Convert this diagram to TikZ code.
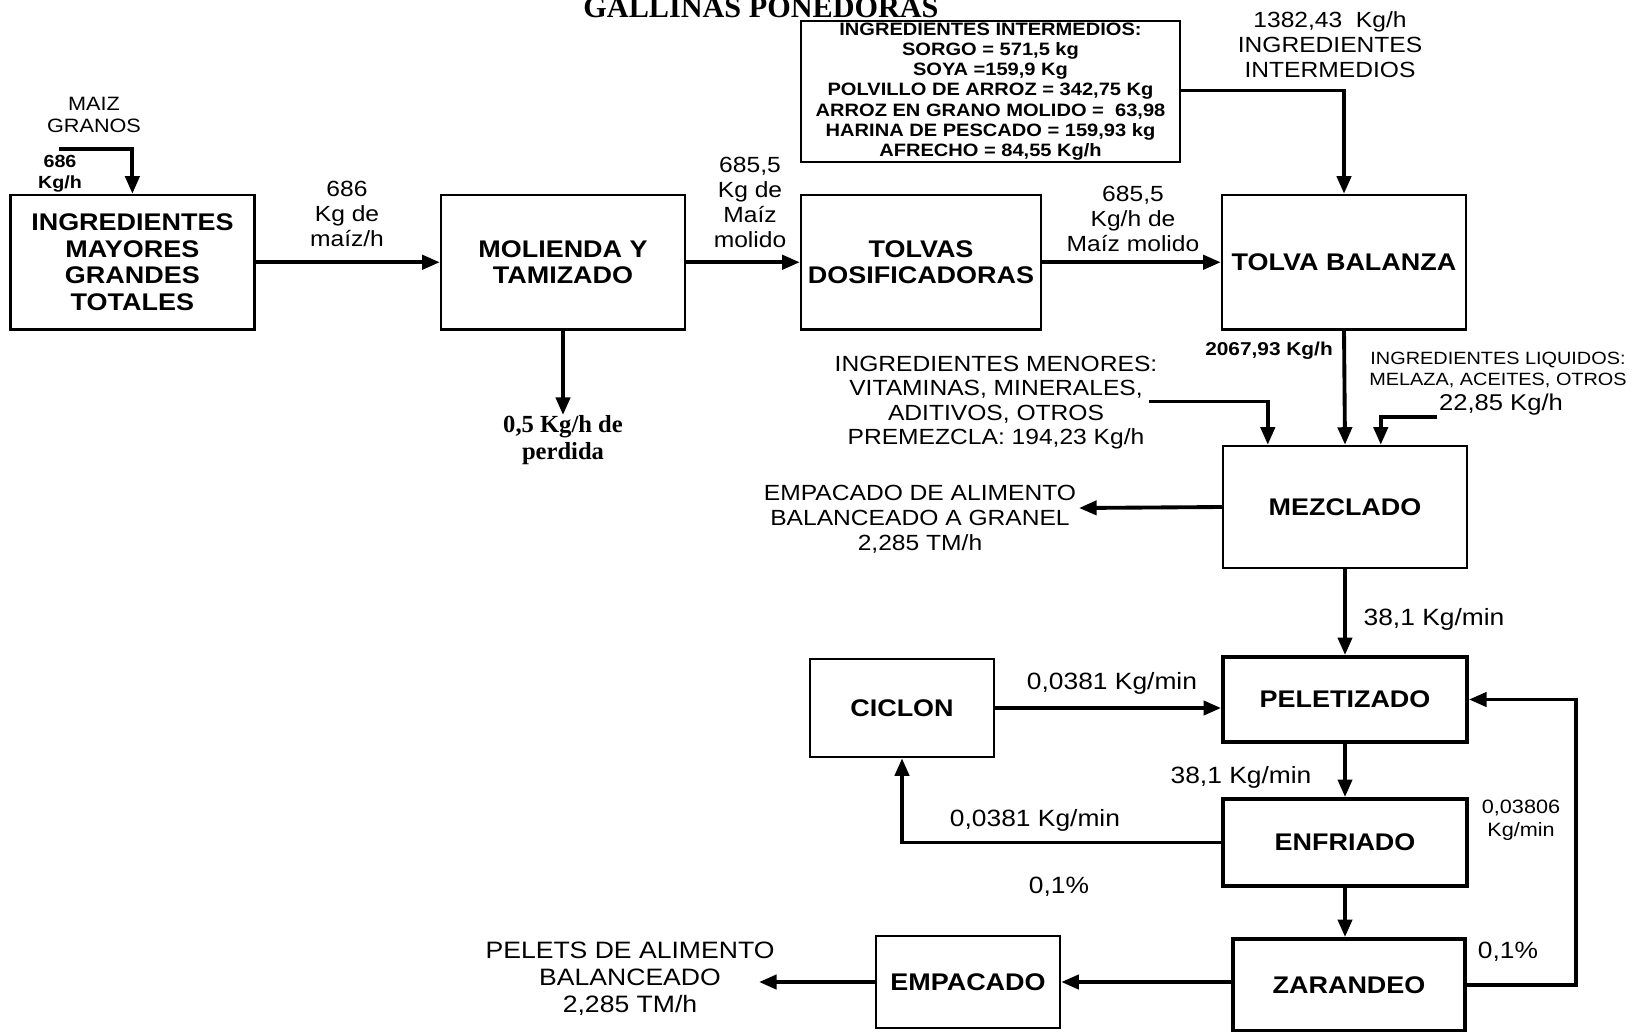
\documentclass[tikz,border=0pt]{standalone}
\usepackage{fontspec}
\setmainfont{Liberation Sans}[FakeStretch=1.12]
\newfontfamily\serifb{Liberation Serif}
\usetikzlibrary{arrows.meta,calc}

\begin{document}
\begin{tikzpicture}[x=0.02cm,y=-0.02cm,
  proc/.style={draw,line width=1.4pt,inner sep=0pt,align=center,
    font=\bfseries\fontsize{13.7}{15.3}\selectfont},
  heavy/.style={proc,line width=2.2pt},
  lab/.style={inner sep=0pt,align=center,font=\fontsize{12.5}{14.2}\selectfont},
  kgmin/.style={inner sep=0pt,align=center,font=\fontsize{13.4}{15}\selectfont},
  small/.style={inner sep=0pt,align=center,font=\bfseries\fontsize{10.2}{12.2}\selectfont},
  flow/.style={line width=2.2pt,-{Triangle[length=10pt,width=8pt]}},
]
\useasboundingbox (0,0) rectangle (1635,1031);

% title
\node[inner sep=0pt,anchor=base,font=\serifb\bfseries\fontsize{17.2}{19}\selectfont] (title) at (761,17.5) {GALLINAS PONEDORAS};

% main line of process blocks
\node[proc,minimum width=4.88cm,minimum height=2.69cm] (may) at (132.4,262.25) {INGREDIENTES\\MAYORES\\GRANDES\\TOTALES};
\node[proc,minimum width=4.88cm,minimum height=2.69cm] (mol) at (563,262.25) {MOLIENDA Y\\TAMIZADO};
\node[proc,minimum width=4.80cm,minimum height=2.69cm] (tol) at (921,262.25) {TOLVAS\\DOSIFICADORAS};
\node[proc,minimum width=4.88cm,minimum height=2.69cm] (bal) at (1344,262.25) {TOLVA BALANZA};

% intermediate ingredients list
\node[proc,minimum width=7.58cm,minimum height=2.82cm,
  font=\bfseries\fontsize{10.2}{11.5}\selectfont] (inter) at (990.5,91.5)
  {INGREDIENTES INTERMEDIOS:\\SORGO = 571,5 kg\\SOYA =159,9 Kg\\POLVILLO DE ARROZ = 342,75 Kg\\ARROZ EN GRANO MOLIDO =\ \ 63,98\\HARINA DE PESCADO = 159,93 kg\\AFRECHO = 84,55 Kg/h};

% mixing and pelleting blocks
\node[proc,minimum width=4.88cm,minimum height=2.44cm] (mez) at (1345,507) {MEZCLADO};
\node[heavy,minimum width=4.88cm,minimum height=1.70cm] (pel) at (1345,699.5) {PELETIZADO};
\node[proc,minimum width=3.68cm,minimum height=1.96cm] (cic) at (902,708) {CICLON};
\node[heavy,minimum width=4.88cm,minimum height=1.74cm] (enf) at (1345,842.5) {ENFRIADO};
\node[heavy,minimum width=4.64cm,minimum height=1.84cm] (zar) at (1349,985) {ZARANDEO};
\node[proc,minimum width=3.68cm,minimum height=1.84cm] (emp) at (968,982) {EMPACADO};

% free ends of the feed and product streams
\coordinate (maizin) at (59,149);
\coordinate (loss) at (563,415);
\coordinate (menin) at (1149,401.5);
\coordinate (liqin) at (1437,417);
\coordinate (granel) at (1079,508);
\coordinate (pelout) at (759,982);

% stream labels
\node[lab,font=\fontsize{11}{12.5}\selectfont] (lmaiz) at (94,115) {MAIZ\\GRANOS};
\node[small,font=\bfseries\fontsize{10}{12.2}\selectfont] (l686a) at (60,173.5) {686\\Kg/h};
\node[lab] (l686b) at (347,214) {686\\Kg de\\maíz/h};
\node[lab] (l6855a) at (750,202.5) {685,5\\Kg de\\Maíz\\molido};
\node[lab] (l6855b) at (1133,218.5) {685,5\\Kg/h de\\Maíz molido};
\node[lab] (linter) at (1330,44.5) {1382,43\ \ Kg/h\\INGREDIENTES\\INTERMEDIOS};
\node[inner sep=0pt,align=center,font=\serifb\bfseries\fontsize{14}{15.6}\selectfont] (lloss) at (563,440) {0,5 Kg/h de\\perdida};
\node[small,font=\bfseries\fontsize{10.6}{12}\selectfont] (l2067) at (1269,351) {2067,93 Kg/h};
\node[lab,font=\fontsize{12.5}{13.8}\selectfont] (lmen) at (996,402.5) {INGREDIENTES MENORES:\\VITAMINAS, MINERALES,\\ADITIVOS, OTROS\\PREMEZCLA: 194,23 Kg/h};
\node[lab,font=\fontsize{10.1}{12.2}\selectfont] (lliq) at (1498,369.8) {INGREDIENTES LIQUIDOS:\\MELAZA, ACEITES, OTROS};
\node[lab,font=\fontsize{13}{14}\selectfont] (lliqkg) at (1501,404.6) {22,85 Kg/h};
\node[lab] (lgran) at (920,519) {EMPACADO DE ALIMENTO\\BALANCEADO A GRANEL\\2,285 TM/h};
\node[kgmin] (l381a) at (1434,619) {38,1 Kg/min};
\node[kgmin] (l0381a) at (1112,683) {0,0381 Kg/min};
\node[kgmin] (l381b) at (1241,777) {38,1 Kg/min};
\node[kgmin] (l0381b) at (1035,820.6) {0,0381 Kg/min};
\node[kgmin] (lpc1) at (1059,887) {0,1\%};
\node[lab,font=\fontsize{11}{13}\selectfont] (l03806) at (1521,820.5) {0,03806\\Kg/min};
\node[kgmin] (lpc2) at (1508,952) {0,1\%};
\node[lab,font=\fontsize{13.5}{15.3}\selectfont] (lpel) at (630,979) {PELETS DE ALIMENTO\\BALANCEADO\\2,285 TM/h};

% streams
\draw[flow] (maizin) -| (may.north);
\draw[flow] (may) -- (mol);
\draw[flow] (mol) -- (tol);
\draw[flow] (tol) -- (bal);
\draw[flow] ([yshift=0.02cm]inter.east) -| (bal.north);
\draw[flow] (mol.south) -- (loss);
\draw[flow] (bal.south) -- (mez.north);
\draw[flow] (menin) -| ([xshift=0.92cm]mez.north west);
\draw[flow] (liqin) -| ([xshift=3.18cm]mez.north west);
\draw[flow] (mez.west) -- (granel);
\draw[flow] (mez.south) -- (pel.north);
\draw[flow] (cic.east) -- (cic.east -| pel.west);
\draw[flow] (pel.south) -- (enf.north);
\draw[flow] (enf.west) -| (cic.south);
\draw[flow] (enf.south) -- (enf.south |- zar.north);
\draw[flow] (zar.east) -- ++(109,0) |- (pel.east);
\draw[flow] (zar.west |- emp.east) -- (emp.east);
\draw[flow] (emp.west) -- (pelout);
\end{tikzpicture}
\end{document}
